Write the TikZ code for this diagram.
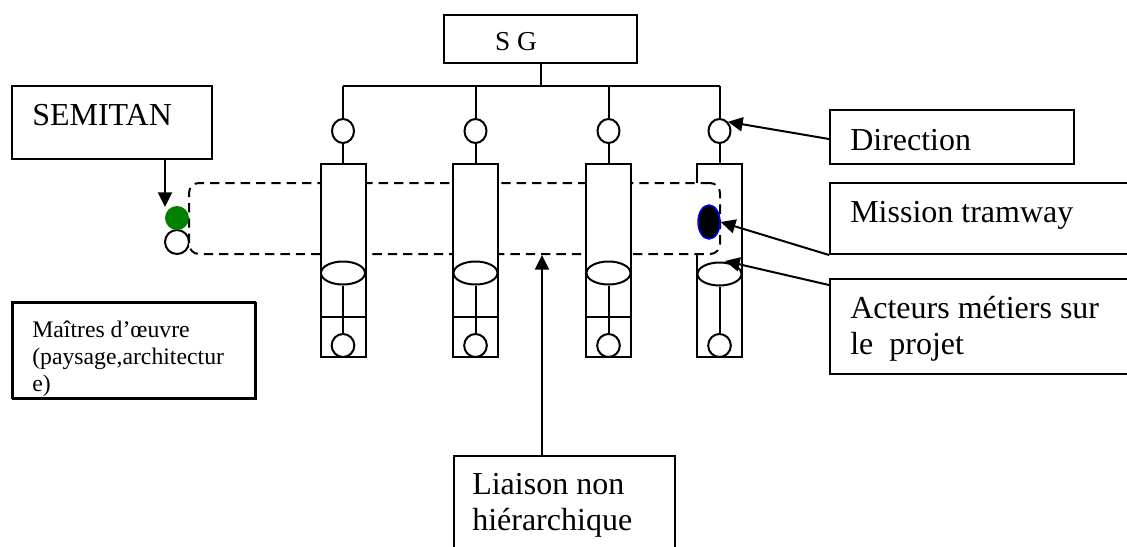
\documentclass[tikz,border=0pt]{standalone}
\usepackage{fontspec}
\setmainfont{Liberation Serif}
\usetikzlibrary{arrows.meta,shapes.geometric}
\tikzset{
  lw/.style={line width=1.5pt},
  box/.style={draw, lw, fill=white, inner sep=0pt, rectangle, anchor=north west},
  circ/.style={draw, lw, fill=white, ellipse, inner sep=0pt, minimum width=16.5pt, minimum height=18pt},
  botcirc/.style={draw, lw, fill=white, ellipse, inner sep=0pt, minimum width=17pt, minimum height=17.25pt},
  oval/.style={draw, lw, fill=white, ellipse, inner sep=0pt, minimum width=33pt, minimum height=17.25pt},
  colbox/.style={draw, lw, fill=white, rectangle, inner sep=0pt, minimum width=33.75pt, minimum height=144.75pt},
  arr/.style={lw, -{Triangle[length=11pt,width=10.5pt]}},
  dsh/.style={draw, lw, dash pattern=on 7pt off 4.5pt, fill=white, rounded corners=7.5pt, rectangle, inner sep=0pt, anchor=north west},
  txt/.style={inner sep=0pt, align=left, font=\fontsize{24}{27}\selectfont},
  smalltxt/.style={inner sep=0pt, align=left, font=\fontsize{17.8}{20.25}\selectfont},
}
\begin{document}
\begin{tikzpicture}[x=0.75pt,y=-0.75pt]
\clip (0,0) rectangle (1127,546);
\useasboundingbox (0,0) rectangle (1127,546);

% SG box
\node[box, minimum width=144.75pt, minimum height=36pt] (sg) at (443,14) {};
\node[inner sep=0pt, font=\fontsize{20.5}{24}\selectfont] (sgt) at (516,42) {S G};
\coordinate (bus1) at (343,86);
\coordinate (bus4) at (719.5,86);
\draw[lw] (bus1) -- (bus4);
\draw[lw] (sg.south) -- (sg.south |- bus1);

% column 4 (behind the dashed link)
\node[circ] (t4) at (719.5,131) {};
\node[colbox] (b4) at (719.5,260.5) {};
\node[oval] (e4) at (719.5,274) {};
\node[botcirc] (o4) at (719.5,345.5) {};
\draw[lw] (bus4) -- (t4.north);
\draw[lw] (t4.south) -- (b4.north);
\draw[lw] (e4.south) -- (o4.north);

% left white circle
\node[draw, lw, circle, inner sep=0pt, minimum size=18pt] (wc) at (177,242) {};

% dashed non hierarchical link
\node[dsh, minimum width=398.25pt, minimum height=53.25pt] (dl) at (188,182) {};

% columns 1-3
\foreach \i/\x in {1/343, 2/475.5, 3/608.5} {
  \coordinate (bus\i) at (\x,86);
  \node[circ] (t\i) at (\x,131) {};
  \node[colbox] (b\i) at (\x,260.5) {};
  \node[oval] (e\i) at (\x,273) {};
  \node[botcirc] (o\i) at (\x,345.5) {};
  \draw[lw] (bus\i) -- (t\i.north);
  \draw[lw] (t\i.south) -- (b\i.north);
  \draw[lw] (e\i.south) -- (o\i.north);
  \draw[lw] (b\i.west |- 0,317) -- (b\i.east |- 0,317);
}

% green and black dots
\node[circle, fill={rgb,255:red,0;green,128;blue,0}, inner sep=0pt, minimum size=18pt] (gc) at (177,218) {};
\node[ellipse, draw=blue, line width=1.1pt, fill=black, inner sep=0pt, minimum width=16.5pt, minimum height=25.5pt] (bk) at (709,222) {};

% SEMITAN
\node[box, minimum width=150pt, minimum height=54.75pt] (semitan) at (11,85) {};
\node[txt, anchor=west] (semitant) at (32,115) {SEMITAN};
\coordinate (semarr) at (165,158);
\draw[arr] (semarr) -- (165,207);

% Direction
\node[box, minimum width=183pt, minimum height=40.5pt] (dir) at (829,109) {};
\node[txt, anchor=west] (dirt) at (850,140) {Direction};
\coordinate (dirs) at (829,139);
\draw[arr] (dirs) -- (t4.north east);

% Mission tramway
\node[box, minimum width=240pt, minimum height=53.25pt] (mis) at (829,182) {};
\node[txt, anchor=west] (mist) at (850,215) {Mission tramway};
\draw[arr] (mis.south west) -- (bk.east);

% Acteurs metiers
\node[box, minimum width=240pt, minimum height=71.25pt] (act) at (829,278) {};
\node[txt, anchor=west] (actt) at (850,328.5) {Acteurs métiers sur\\le\ \ projet};
\coordinate (acts) at (829,285);
\draw[arr] (acts) -- (725,261);

% Maitres d'oeuvre
\node[box, minimum width=182.25pt, minimum height=72pt] (mo) at (12,302) {};
\begin{scope}
\clip (12,302) rectangle (255,395);
\node[smalltxt, anchor=west] (mot) at (32,359) {Maîtres d’œuvre\\(paysage,architectur\\e)};
\end{scope}
\draw[lw] (12,302) rectangle (255,398);

% Liaison non hierarchique
\node[box, minimum width=165.75pt, minimum height=90pt] (lnh) at (453,455) {};
\node[txt, anchor=west] (lnht) at (472,505) {Liaison non\\hiérarchique};
\coordinate (lnhs) at (542,455);
\draw[arr] (lnhs) -- (lnhs |- dl.south);
\end{tikzpicture}
\end{document}
